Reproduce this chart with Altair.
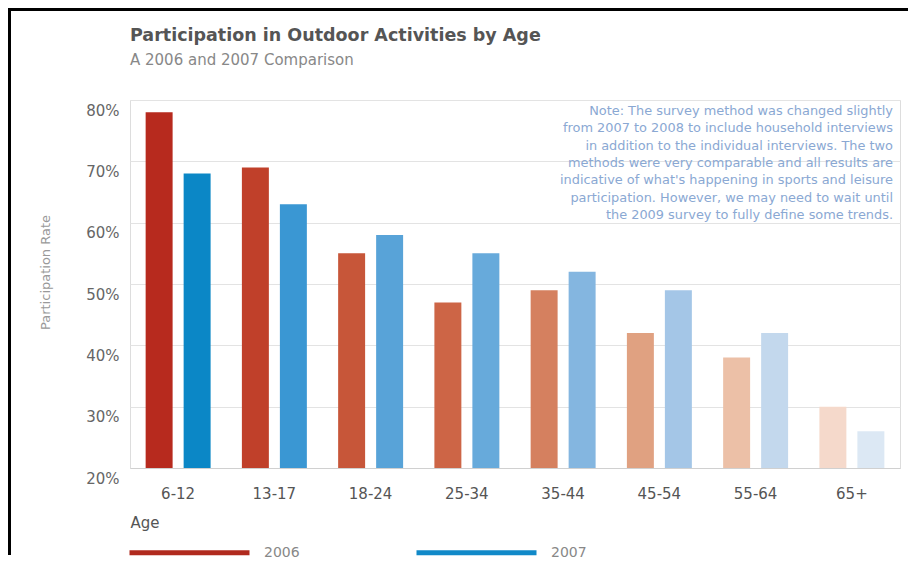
import altair as alt
import pandas as pd

# ---- data ----
AGES = ["6-12", "13-17", "18-24", "25-34", "35-44", "45-54", "55-64", "65+"]
YEARS = ["2006", "2007"]
RATE_2006 = [78, 69, 55, 47, 49, 42, 38, 30]
RATE_2007 = [68, 63, 58, 55, 52, 49, 42, 26]
Y_TICKS = [20, 30, 40, 50, 60, 70, 80]
NOTE_LINES = [
    "Note: The survey method was changed slightly",
    "from 2007 to 2008 to include household interviews",
    "in addition to the individual interviews. The two",
    "methods were very comparable and all results are",
    "indicative of what's happening in sports and leisure",
    "participation. However, we may need to wait until",
    "the 2009 survey to fully define some trends.",
]

# ---- styles ----
SHADES_2006 = ["#b72a1e", "#c0402a", "#c75639", "#cd6546", "#d5805f", "#e0a181", "#ecc0a7", "#f5d9cb"]
SHADES_2007 = ["#0b87c6", "#3a97d3", "#58a3d8", "#67aadb", "#84b6e0", "#a4c6e7", "#c3d8ed", "#dce8f4"]
LEGEND_COLORS = ["#b02a1e", "#1189c8"]
FONT = "DejaVu Sans"

rows = []
for i, age in enumerate(AGES):
    rows.append({"Age": age, "Year": YEARS[0], "Rate": RATE_2006[i], "Shade": SHADES_2006[i]})
    rows.append({"Age": age, "Year": YEARS[1], "Rate": RATE_2007[i], "Shade": SHADES_2007[i]})
df = pd.DataFrame(rows)

x_enc = alt.X(
    "Age:N", sort=AGES,
    scale=alt.Scale(paddingInner=0.325, paddingOuter=0.1625),
    axis=alt.Axis(
        title="Age", labelAngle=0, labelFont=FONT, labelFontSize=15, labelColor="#555",
        labelPadding=18, ticks=False, tickSize=0, domain=True, domainColor="#d0d0d0",
        grid=False, titleAnchor="start", titleAlign="left", titleX=0, titleY=54,
        titleBaseline="middle", titleFont=FONT, titleFontSize=15, titleColor="#555",
        titleFontWeight="normal",
    ),
)
y_enc = alt.Y(
    "Rate:Q",
    scale=alt.Scale(domain=[20, 80], zero=False, nice=False),
    axis=alt.Axis(
        title="Participation Rate", values=Y_TICKS, labelExpr="datum.value + '%'",
        labelFont=FONT, labelFontSize=15, labelColor="#666", labelPadding=11, labelOffset=10,
        ticks=False, tickSize=0, domain=False, grid=True, gridColor="#e3e3e3",
        titleFont=FONT, titleFontSize=13, titleColor="#999", titleFontWeight="normal",
        titleX=-85, titleY=172, titleBaseline="middle",
    ),
)
x_off = alt.XOffset("Year:N", sort=YEARS, scale=alt.Scale(paddingInner=0.29, paddingOuter=0))

legend_layer = alt.Chart(df).mark_rule(opacity=0).encode(
    y=y_enc,
    color=alt.Color(
        "Year:N", sort=YEARS,
        scale=alt.Scale(domain=YEARS, range=LEGEND_COLORS),
        legend=alt.Legend(
            title=None, orient="none", legendX=-3, legendY=390, direction="horizontal",
            symbolType="stroke", symbolSize=14400, symbolStrokeWidth=5, symbolOpacity=1,
            labelFont=FONT, labelFontSize=14, labelColor="#888", labelOffset=12,
            columnPadding=106,
        ),
    ),
)

bars = alt.Chart(df).mark_bar().encode(
    x=x_enc,
    xOffset=x_off,
    y=y_enc,
    y2=alt.datum(20),
    fill=alt.Fill("Shade:N", scale=None),
)

note = alt.Chart(pd.DataFrame({"t": [NOTE_LINES]})).mark_text(
    font=FONT, fontSize=12.9, color="#8aa8d3", align="right", baseline="top", lineHeight=17.3,
).encode(text="t", x=alt.value(763), y=alt.value(5))

border_top = alt.Chart(pd.DataFrame({"k": [0]})).mark_rect(color="#000").encode(
    x=alt.value(-122), x2=alt.value(778), y=alt.value(-92), y2=alt.value(-89)
)
border_left = alt.Chart(pd.DataFrame({"k": [0]})).mark_rect(color="#000").encode(
    x=alt.value(-122), x2=alt.value(-119), y=alt.value(-92), y2=alt.value(455)
)

chart = alt.layer(bars, legend_layer, note, border_top, border_left).properties(
    width=770, height=368,
    autosize=alt.AutoSizeParams(type="none"),
    padding={"left": 122, "top": 92, "right": 8, "bottom": 91},
    title=alt.TitleParams(
        text="Participation in Outdoor Activities by Age",
        subtitle="A 2006 and 2007 Comparison",
        anchor="start", frame="group", font=FONT, fontSize=17.5, fontWeight="bold", color="#555",
        subtitleFont=FONT, subtitleFontSize=15, subtitleColor="#888", subtitlePadding=9,
        offset=-60,
    ),
).configure_view(fill="#f4f4f4", strokeWidth=0).configure(background="white")

chart.save("out.html", embed_options={"renderer": "svg", "actions": False})
